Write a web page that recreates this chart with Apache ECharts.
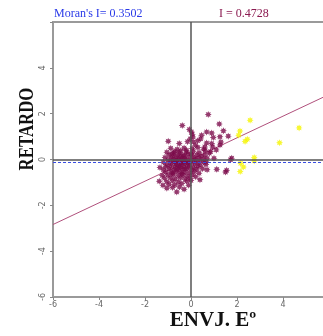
<!DOCTYPE html>
<html><head><meta charset="utf-8">
<script src="https://cdn.jsdelivr.net/npm/echarts@6/dist/echarts.min.js"></script>
<style>html,body{margin:0;padding:0;background:#fff}#c{width:323px;height:336px}</style>
</head><body><div id="c"></div>
<script>
const xTicks = [-6, -4, -2, 0, 2, 4, 6];
const yTicks = [-6, -4, -2, 0, 2, 4, 6];
const moranGlobal = "Moran's I= 0.3502";
const moranLocal = "I = 0.4728";
const slope = 0.4728;
const meanLag = -0.13;
const xName = "ENVJ. Eº";
const yName = "RETARDO";
// maroon points (x = ENVJ, y = lag)
const mainPoints = [
 [0.75,1.96],[-0.38,1.48],[1.23,1.55],[-0.07,1.31],[0.02,1.2],[0.05,1.1],[0.08,0.98],[-0.03,0.9],[0.1,0.76],
 [0.46,1.06],[0.68,1.2],[0.9,1.16],[0.97,0.96],[1.26,0.99],[1.41,1.25],[1.62,1.02],
 [-0.99,0.8],[-0.51,0.7],[0.29,0.82],[0.68,0.72],[0.9,0.7],[0.94,0.55],[1.26,0.63],[1.3,0.76],
 [0.42,0.9],[-0.15,0.78],[0.2,0.62],[0.55,0.45],[0.85,0.35],[1.1,0.42],[0.8,0.27],[0.6,0.2],
 [-0.83,0.25],[1.72,-0.01],[1.77,0.06],[0.7,0.05],[0.65,-0.1],[1.12,-0.43],[1.55,-0.47],[1.5,-0.55],
 [-0.88,0.49],[-0.6,0.45],[-0.3,0.5],[0.05,0.48],[0.3,0.52],[0.6,0.55],
 [-1.05,0.32],[-0.7,0.35],[-0.45,0.38],[-0.2,0.33],[0.1,0.36],[0.35,0.3],[0.62,0.38],
 [-0.95,0.2],[-0.75,0.18],[-0.55,0.22],[-0.35,0.2],[-0.15,0.24],[0.05,0.18],[0.25,0.2],[0.45,0.15],
 [-1.13,0.09],[-0.85,0.08],[-0.65,0.1],[-0.45,0.12],[-0.25,0.06],[-0.05,0.1],[0.15,0.05],[0.35,0.08],[0.55,0.02],
 [-1.0,-0.02],[-0.8,0.0],[-0.6,-0.03],[-0.4,0.02],[-0.2,-0.01],[0.0,-0.04],[0.2,-0.02],[0.4,-0.05],[1.0,0.05],
 [-1.2,-0.12],[-0.9,-0.1],[-0.7,-0.12],[-0.5,-0.08],[-0.3,-0.1],[-0.1,-0.12],[0.1,-0.1],[0.3,-0.14],[0.55,-0.12],
 [-1.05,-0.22],[-0.85,-0.2],[-0.65,-0.18],[-0.45,-0.22],[-0.25,-0.2],[-0.05,-0.24],[0.15,-0.2],[0.4,-0.25],[0.65,-0.22],
 [-1.35,-0.35],[-1.1,-0.32],[-0.9,-0.3],[-0.7,-0.33],[-0.5,-0.3],[-0.3,-0.32],[-0.1,-0.3],[0.1,-0.35],[0.3,-0.3],
 [-1.2,-0.45],[-0.95,-0.42],[-0.75,-0.44],[-0.55,-0.4],[-0.35,-0.43],[-0.15,-0.4],[0.05,-0.45],[0.25,-0.42],[0.5,-0.4],[0.7,-0.45],
 [-1.1,-0.55],[-0.85,-0.57],[-0.65,-0.53],[-0.45,-0.56],[-0.25,-0.55],[-0.05,-0.58],[0.15,-0.52],[0.35,-0.6],
 [-1.25,-0.7],[-1.0,-0.68],[-0.78,-0.66],[-0.55,-0.7],[-0.35,-0.67],[-0.15,-0.72],[0.05,-0.68],[0.2,-0.75],
 [-1.15,-0.82],[-0.9,-0.8],[-0.68,-0.84],[-0.45,-0.8],[-0.25,-0.85],[-0.05,-0.82],[0.39,-0.88],
 [-1.38,-0.95],[-1.05,-0.97],[-0.8,-0.93],[-0.55,-0.98],[-0.19,-0.95],[0.0,-0.92],
 [-1.22,-1.12],[-0.95,-1.08],[-0.7,-1.1],[-0.4,-1.05],[-0.1,-1.12],
 [-1.05,-1.25],[-0.8,-1.22],[-0.5,-1.2],[-0.62,-1.42],[-0.3,-1.3],
 [-0.6,-0.25],[-0.4,-0.15],[-0.55,0.05],[-0.35,-0.05],[-0.7,-0.05],[-0.45,-0.35],[-0.25,-0.4],[-0.6,-0.45],
 [-0.3,0.15],[-0.5,0.3],[-0.2,0.4],[-0.8,-0.6],[-0.4,-0.62],[-0.15,-0.15],[0.0,0.25],[-0.75,0.3]
];
// yellow points
const highPoints = [
 [2.57,1.71],[4.70,1.38],[2.13,1.24],[2.07,1.06],[2.45,0.88],[2.35,0.79],[3.85,0.73],
 [2.75,0.09],[2.75,-0.06],[2.16,-0.17],[2.28,-0.33],[2.14,-0.52]
];

function starPath(){
  const pts=[]; const n=8;
  for(let i=0;i<n*2;i++){
    const r = i%2===0 ? 10 : 5.5;
    const a = Math.PI*i/n - Math.PI/2;
    pts.push((10+r*Math.cos(a)).toFixed(2)+','+(10+r*Math.sin(a)).toFixed(2));
  }
  return 'path://M'+pts.join('L')+'Z';
}
const star = starPath();
const hideTop = v => (v === 6 ? '' : String(v));

const chart = echarts.init(document.getElementById('c'), null, {renderer:'canvas'});
const serif = '"Liberation Serif","DejaVu Serif",serif';
chart.setOption({
  animation:false,
  grid:{left:53, top:22, width:276, height:275, outerBoundsMode:'none', containLabel:false,
        show:true, borderColor:'#9a9a9a', borderWidth:2, backgroundColor:'#fff'},
  xAxis:{type:'value', min:xTicks[0], max:xTicks[xTicks.length-1], interval:2,
    axisLine:{onZero:false, lineStyle:{color:'#9a9a9a', width:2}},
    axisTick:{show:true, length:3, lineStyle:{color:'#888'}},
    axisLabel:{fontSize:8, color:'#666', margin:4, fontFamily:'"DejaVu Sans",sans-serif', formatter:hideTop},
    splitLine:{show:false}},
  yAxis:{type:'value', min:yTicks[0], max:yTicks[yTicks.length-1], interval:2,
    axisLine:{onZero:false, lineStyle:{color:'#9a9a9a', width:2}},
    axisTick:{show:true, length:3, lineStyle:{color:'#888'}},
    axisLabel:{fontSize:8, color:'#666', margin:6, rotate:90, fontFamily:'"DejaVu Sans",sans-serif', formatter:hideTop},
    splitLine:{show:false}},
  series:[
    {type:'line', data:[[xTicks[0], xTicks[0]*slope],[xTicks[xTicks.length-1], xTicks[xTicks.length-1]*slope]],
     symbol:'none', lineStyle:{color:'#b0507c', width:1}, z:3, silent:true,
     markLine:{silent:true, symbol:'none', label:{show:false},
       data:[
        {xAxis:0, lineStyle:{color:'#555', width:1.5, type:'solid'}},
        {yAxis:0, lineStyle:{color:'#555', width:1.5, type:'solid'}},
        {yAxis:meanLag, lineStyle:{color:'#3a4ee0', width:1, type:[3,2]}}
       ]}},
    {type:'scatter', data:mainPoints, symbol:star, symbolSize:7, itemStyle:{color:'#7a0a4a'}, z:4},
    {type:'scatter', data:highPoints, symbol:star, symbolSize:7, itemStyle:{color:'#f5f500'}, z:4}
  ],
  graphic:[
    {type:'text', left:54, top:8, style:{text:moranGlobal, font:'12px '+serif, fill:'#2a3ae8'}},
    {type:'text', left:219, top:8, style:{text:moranLocal, font:'12px '+serif, fill:'#8b1a50'}},
    {type:'text', x:213, y:321, style:{text:xName, font:'bold 21px '+serif, fill:'#111', align:'center', verticalAlign:'middle'}},
    {type:'text', x:28, y:129, rotation:Math.PI/2, scaleX:0.8, style:{text:yName, font:'bold 21px '+serif, fill:'#111', align:'center', verticalAlign:'middle'}}
  ]
});
</script></body></html>
